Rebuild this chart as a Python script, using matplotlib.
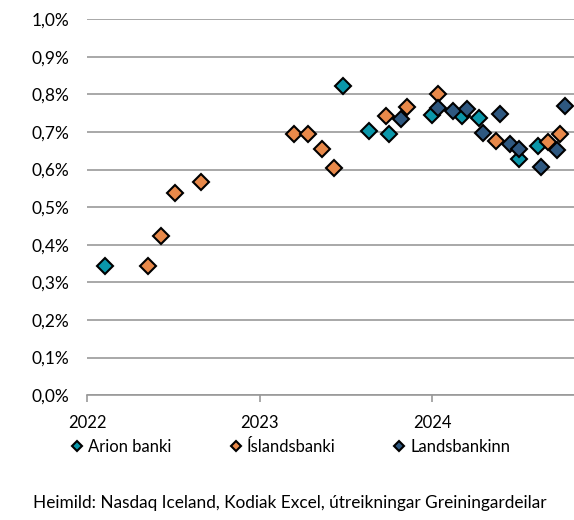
import numpy as np
import matplotlib.pyplot as plt

plt.rcParams['font.family'] = ['Lato', 'DejaVu Sans']

# gögn lesin af myndinni (ár sem tugabrot, ávöxtun í %)
arion_x = [2022.10, 2023.48, 2023.63, 2023.75, 2024.00, 2024.17, 2024.27, 2024.50, 2024.61]
arion_y = [0.343, 0.822, 0.702, 0.694, 0.746, 0.743, 0.738, 0.628, 0.664]

isb_x = [2022.35, 2022.43, 2022.51, 2022.66, 2023.20, 2023.28, 2023.36, 2023.43,
         2023.73, 2023.85, 2024.03, 2024.37, 2024.67, 2024.74]
isb_y = [0.344, 0.423, 0.537, 0.566, 0.694, 0.694, 0.654, 0.603,
         0.742, 0.767, 0.800, 0.676, 0.673, 0.695]

lb_x = [2023.82, 2024.03, 2024.12, 2024.20, 2024.29, 2024.39, 2024.45, 2024.50,
        2024.63, 2024.72, 2024.77]
lb_y = [0.735, 0.765, 0.757, 0.761, 0.697, 0.749, 0.668, 0.655,
        0.606, 0.652, 0.769]

years = [2022, 2023, 2024]
yticks = np.arange(0, 1.01, 0.1)

fig = plt.figure(figsize=(5.74, 5.2), dpi=100)
ax = fig.add_axes([0.152, 0.240, 0.848, 0.723])

col_arion = '#0A97AA'
col_isb = '#E8894A'
col_lb = '#2E5880'

series = [(arion_x, arion_y, col_arion, 'Arion banki'),
          (isb_x, isb_y, col_isb, 'Íslandsbanki'),
          (lb_x, lb_y, col_lb, 'Landsbankinn')]
handles = []
for x, y, c, lab in series:
    h, = ax.plot(x, y, linestyle='none', marker='D', ms=8.5, mfc=c, mec='black',
                 mew=1.5, label=lab, clip_on=False, zorder=3)
    handles.append(h)

ax.set_ylim(0, 1.0)
ax.set_xlim(2022, 2024.82)
ax.set_yticks(yticks)
ax.set_yticklabels([('%.1f%%' % v).replace('.', ',') for v in yticks])
ax.set_xticks(years)
ax.set_xticklabels([str(y) for y in years])
ax.grid(axis='y', color='#999999', linewidth=1.2)
ax.set_axisbelow(True)
for s in ['top', 'right', 'left']:
    ax.spines[s].set_visible(False)
ax.spines['bottom'].set_color('#999999')
ax.spines['bottom'].set_linewidth(1.2)
ax.tick_params(axis='y', length=0, pad=13, labelsize=12.5)
ax.tick_params(axis='x', length=5, color='#999999', width=1.2, pad=9, labelsize=12)

# ein lýsing fyrir hverja röð, hlið við hlið
for h, lx in zip(handles, [0.122, 0.399, 0.684]):
    lg = fig.legend([h], [h.get_label()], loc='center left', bbox_to_anchor=(lx, 0.140),
                    frameon=False, fontsize=12, markerscale=0.65, handlelength=0.8,
                    handletextpad=0.25, borderpad=0, borderaxespad=0)

fig.text(0.057, 0.033, 'Heimild: Nasdaq Iceland, Kodiak Excel, útreikningar Greiningardeilar',
         fontsize=12.4, va='center')

fig.savefig('out.png', dpi=100)
